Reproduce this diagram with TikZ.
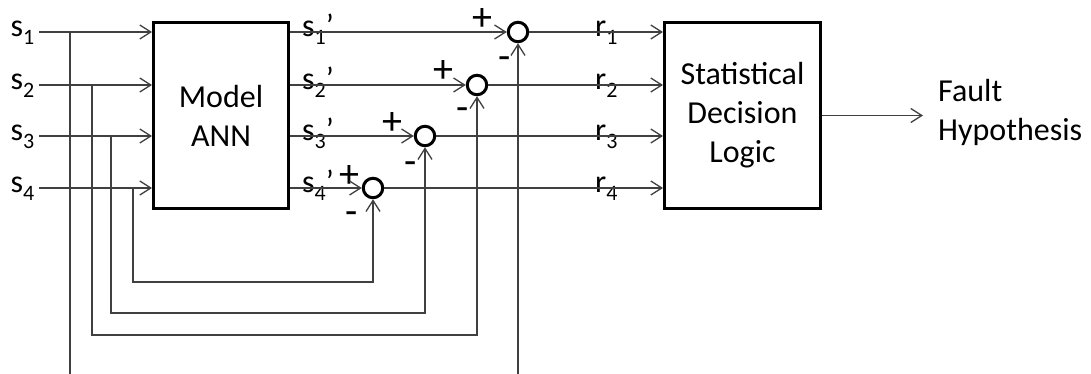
\documentclass[tikz,border=0pt]{standalone}
\usepackage{fontspec}
\setmainfont{Carlito}
\usetikzlibrary{arrows.meta}
\newcommand\mysub[1]{\raisebox{-8pt}{\fontsize{22}{22}\selectfont #1}}
\newcommand\bigfnt{\fontsize{32}{39}\selectfont}
\newcommand\sgnfnt{\fontsize{40}{40}\selectfont}
\begin{document}
\begin{tikzpicture}[x=1pt,y=-1pt,
  wire/.style={draw=black!75, line width=1.3pt},
  arr/.style={wire, -{Straight Barb[length=11pt,width=14pt,line width=1.3pt]}},
  blk/.style={draw=black, line width=3pt, fill=white, align=center, font=\bigfnt, minimum height=186pt},
  sumnode/.style={circle, draw=black, line width=3pt, minimum size=19.5pt, inner sep=0pt, fill=white},
  lbl/.style={inner sep=0pt, font=\bigfnt, anchor=base west},
  sgn/.style={inner sep=0pt, font=\sgnfnt, anchor=base},
]
\useasboundingbox (0,0) rectangle (1091,374);

% blocks
\node[blk, minimum width=135pt] (ann) at (221,115.5) {Model\\ANN};
\node[blk, minimum width=156pt] (sdl) at (742.5,115.5) {Statistical\\Decision\\Logic};
\node[inner sep=0pt, align=left, anchor=west, font=\bigfnt] (fault) at (938,112) {Fault\\Hypothesis};

% summing junctions
\node[sumnode] (c1) at (518,32) {};
\node[sumnode] (c2) at (477,85) {};
\node[sumnode] (c3) at (425,136) {};
\node[sumnode] (c4) at (373,188) {};

% input labels
\node[lbl] (ls1) at (10.5,37) {s\mysub{1}};
\node[lbl] (ls2) at (10.5,90) {s\mysub{2}};
\node[lbl] (ls3) at (10.5,141) {s\mysub{3}};
\node[lbl] (ls4) at (10.5,193) {s\mysub{4}};

% model output labels
\node[lbl] (lp1) at (302,37) {s\mysub{1}’};
\node[lbl] (lp2) at (302,90) {s\mysub{2}’};
\node[lbl] (lp3) at (302,141) {s\mysub{3}’};
\node[lbl] (lp4) at (302,193) {s\mysub{4}’};

% residual labels
\node[lbl] (lr1) at (595,37) {r\mysub{1}};
\node[lbl] (lr2) at (595,90) {r\mysub{2}};
\node[lbl] (lr3) at (595,141) {r\mysub{3}};
\node[lbl] (lr4) at (595,193) {r\mysub{4}};

% signs
\node[sgn] (p1) at (482,31) {+};
\node[sgn] (p2) at (443,82.5) {+};
\node[sgn] (p3) at (392,135) {+};
\node[sgn] (p4) at (349.5,187) {+};
\node[sgn] (m1) at (505,70) {-};
\node[sgn] (m2) at (463,121) {-};
\node[sgn] (m3) at (411,175) {-};
\node[sgn] (m4) at (352,224.5) {-};

% coordinates
\coordinate (in1) at (39,32);
\coordinate (in2) at (39,85);
\coordinate (in3) at (39,136);
\coordinate (in4) at (39,188);
\coordinate (t1) at (70,32);
\coordinate (t2) at (92,85);
\coordinate (t3) at (111,136);
\coordinate (t4) at (133,188);
\coordinate (b1) at (70,374);
\coordinate (outend) at (923,115.5);

% inputs into ANN
\draw[arr] (in1) -- (ann.west |- in1);
\draw[arr] (in2) -- (ann.west |- in2);
\draw[arr] (in3) -- (ann.west |- in3);
\draw[arr] (in4) -- (ann.west |- in4);

% ANN outputs to junctions
\draw[arr] (ann.east |- c1.west) -- (c1.west);
\draw[arr] (ann.east |- c2.west) -- (c2.west);
\draw[arr] (ann.east |- c3.west) -- (c3.west);
\draw[arr] (ann.east |- c4.west) -- (c4.west);

% feedback of measured signals
\draw[wire] (t1) -- (b1);
\draw[arr] (c1.south |- b1) -- (c1.south);
\draw[arr] (t2) -- ++(0,250) -| (c2.south);
\draw[arr] (t3) -- ++(0,177) -| (c3.south);
\draw[arr] (t4) -- ++(0,94) -| (c4.south);

% residuals into decision logic
\draw[arr] (c1.east) -- (sdl.west |- c1.east);
\draw[arr] (c2.east) -- (sdl.west |- c2.east);
\draw[arr] (c3.east) -- (sdl.west |- c3.east);
\draw[arr] (c4.east) -- (sdl.west |- c4.east);

% output
\draw[arr] (sdl.east |- outend) -- (outend);
\end{tikzpicture}
\end{document}
